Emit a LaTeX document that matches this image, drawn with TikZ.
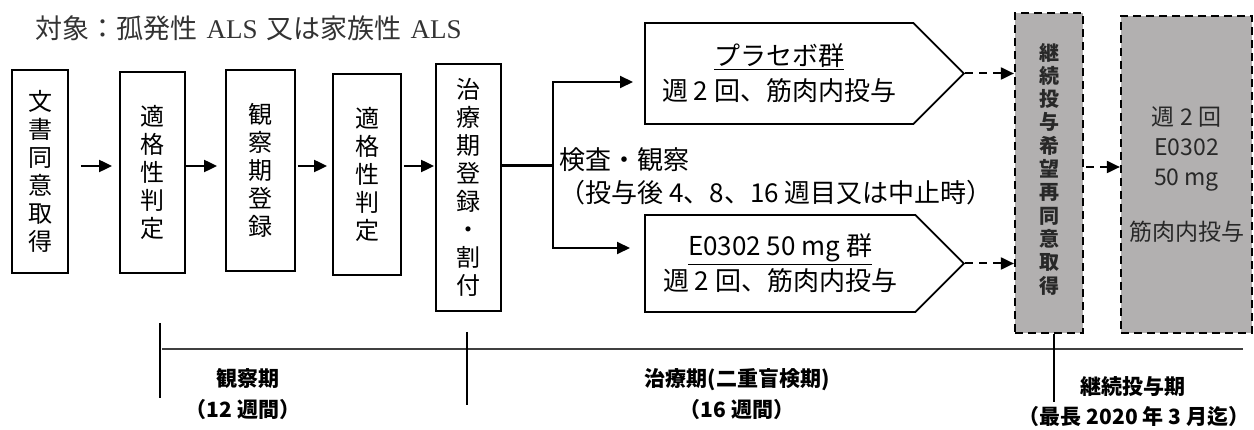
\documentclass[tikz,border=0pt]{standalone}
\usepackage{fontspec}
\setmainfont{Noto Sans CJK JP}
\newfontfamily\titleserif{Liberation Serif}
\usepackage{tikz}
\usetikzlibrary{arrows.meta}
\usetikzlibrary{shapes.symbols}
\definecolor{boxgray}{RGB}{178,176,176}
\definecolor{boxtext}{RGB}{40,40,40}
\tikzset{
    stepbox/.style={
        draw, line width=1.8pt, inner sep=0pt,
        align=center, font=\fontsize{24}{28}\selectfont
    },
    armbox/.style={
        draw, line width=1.8pt, shape=signal, signal to=east,
        signal pointer angle=90, inner sep=0pt,
        minimum width=319pt, minimum height=101pt,
        align=center, font=\fontsize{26}{35}\selectfont
    },
    graybox/.style={
        draw, fill=boxgray, line width=2.2pt, dash pattern=on 8pt off 5pt,
        inner sep=0pt, align=center, text=boxtext
    },
    flow/.style={-{Triangle[length=13pt,width=12pt]}, line width=2pt},
    dflow/.style={flow, dash pattern=on 8pt off 6pt},
    period/.style={font=\bfseries\fontsize{21}{30}\selectfont, align=center}
}
\newcommand{\tateBox}[6] {
	\node[stepbox, minimum width=#4, minimum height=#5] (#1) at (#2,#3) {#6};
}

\begin{document}
\begin{tikzpicture}[x=1pt,y=-1pt]
		\useasboundingbox (0,0) rectangle (1254,430);

		% title
		\node[anchor=west, text=black!80, font=\fontsize{27}{30}\selectfont] (title) at (32,28)
			{対象：孤発性\hspace{9pt}{\titleserif ALS}\hspace{9pt}又は家族性\hspace{9pt}{\titleserif ALS}};

		% observation steps
		\tateBox{consent}{40}{171.5}{56pt}{203pt}{文\\書\\同\\意\\取\\得}
		\tateBox{check1}{152.5}{172.5}{65pt}{201pt}{適\\格\\性\\判\\定}
		\tateBox{obsreg}{260.5}{170.5}{69pt}{201pt}{観\\察\\期\\登\\録}
		\tateBox{check2}{367}{174.5}{68pt}{201pt}{適\\格\\性\\判\\定}
		\tateBox{alloc}{468.5}{187.5}{65pt}{247pt}{治\\療\\期\\登\\録\\・\\割\\付}

		\coordinate (mid) at (0,166);
		\draw[flow, shorten <=12pt, shorten >=7pt] (consent.east |- mid) -- (check1.west |- mid);
		\draw[flow, shorten >=8pt] (check1.east |- mid) -- (obsreg.west |- mid);
		\draw[flow, shorten <=2pt, shorten >=5pt] (obsreg.east |- mid) -- (check2.west |- mid);
		\draw[flow, shorten <=2pt, shorten >=1pt] (check2.east |- mid) -- (alloc.west |- mid);

		% treatment arms
		\node[armbox, anchor=west] (placebo) at (644,73.5)
			{\underline{プラセボ群}\\週 2 回、筋肉内投与};
		\node[armbox, anchor=west, minimum height=97pt] (active) at (644,263.5)
			{\underline{E0302 50 mg 群}\\週 2 回、筋肉内投与};

		\coordinate (split) at (553,166);
		\draw[line width=3pt] (alloc.east |- split) -- (split);
		\draw[flow, shorten >=11pt] (split) |- ([yshift=-8.5pt]placebo.west);
		\draw[flow, shorten >=14pt] (split) |- ([yshift=15.5pt]active.west);

		\node[anchor=west, font=\fontsize{26}{30}\selectfont] (exam) at (556,160) {検査・観察};
		\node[anchor=west, font=\fontsize{26}{30}\selectfont] (examwhen) at (556,193)
			{（投与後 4、8、16 週目又は中止時）};

		% extension
		\node[graybox, minimum width=68pt, minimum height=320pt] (reconsent) at (1049,173) {};
		\node[text=boxtext, align=center, inner sep=0pt,
			font=\bfseries\fontsize{20}{23.3}\selectfont] (reconsenttext) at (reconsent.center)
			[yshift=4pt] {継\\続\\投\\与\\希\\望\\再\\同\\意\\取\\得};
		\node[graybox, minimum width=131pt, minimum height=317pt,
			font=\fontsize{23}{30}\selectfont] (extdose) at (1186.5,174.5)
			{週 2 回\\E0302\\50 mg\\[25pt]筋肉内投与};

		\draw[dflow] (placebo.east) -- (placebo.east -| reconsent.west);
		\draw[dflow] (active.east) -- (active.east -| reconsent.west);
		\coordinate (mid2) at (0,167);
		\draw[dflow, shorten <=2pt] (reconsent.east |- mid2) -- (extdose.west |- mid2);

		% time line
		\draw[line width=1.8pt, black!75] (162,349) -- (1243,349);
		\draw[line width=1.2pt] (160,323) -- (160,398);
		\draw[line width=1.2pt] (467,332) -- (467,405);
		\coordinate (extend) at (1054,402);
		\draw[line width=1.2pt] (reconsent.south -| extend) -- (extend);

		\node[period] (obsper) at (248,378) {観察期};
		\node[period] (obsweeks) at (243,410) {（12 週間）};
		\node[period] (trtper) at (737,380) {治療期(二重盲検期)};
		\node[period] (trtweeks) at (737,410) {（16 週間）};
		\node[period] (extper) at (1133,387) {継続投与期};
		\node[period] (extweeks) at (1134,417) {（最長 2020 年 3 月迄）};

	\end{tikzpicture}
\end{document}
